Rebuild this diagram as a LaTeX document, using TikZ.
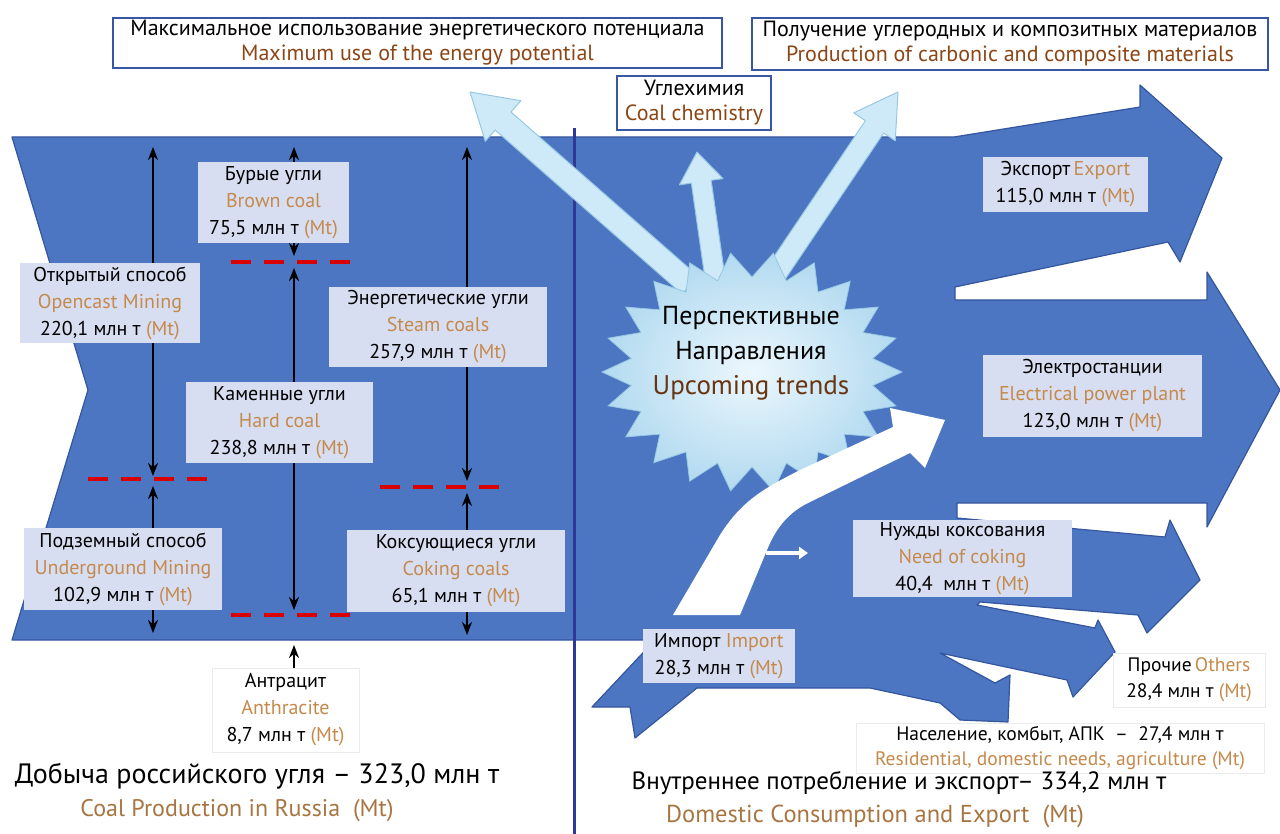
\documentclass[tikz,border=0pt]{standalone}
\usepackage{fontspec}
\setmainfont{PT Sans}
\usepackage{tikz}
\usetikzlibrary{arrows.meta}
\usetikzlibrary{calc}

\definecolor{bandblue}{RGB}{76,118,194}
\definecolor{bandedge}{RGB}{52,86,158}
\definecolor{midline}{RGB}{48,56,150}
\definecolor{labelfill}{RGB}{216,222,241}
\definecolor{engtan}{RGB}{196,138,76}
\definecolor{engbrown}{RGB}{140,70,22}
\definecolor{trendfill}{RGB}{206,233,247}
\definecolor{trendedge}{RGB}{150,200,228}
\definecolor{burstin}{RGB}{236,247,253}
\definecolor{burstout}{RGB}{178,218,240}
\definecolor{boxline}{RGB}{56,86,166}

\tikzset{
  coallabel/.style={fill=labelfill, inner sep=0pt, align=center, font=\fontsize{20}{27}\selectfont},
  whitelabel/.style={fill=white, draw=black!8, inner sep=0pt, align=center, font=\fontsize{20}{27}\selectfont},
  topbox/.style={fill=white, draw=boxline, line width=1.5pt, inner sep=0pt, align=center, font=\fontsize{22}{25}\selectfont},
  dimarrow/.style={line width=2pt, {Stealth[length=13pt,width=10pt]}-{Stealth[length=13pt,width=10pt]}},
  uparrow/.style={line width=2pt, -{Stealth[length=13pt,width=10pt]}},
  cutline/.style={red!85!black, line width=3.5pt, dash pattern=on 20pt off 13pt},
  trend/.style={fill=trendfill, draw=trendedge, line width=1pt, line join=round},
}

\newcommand{\engtxt}[1]{\textcolor{engtan}{#1}}
\newcommand{\mtunit}{\textcolor{engtan}{(Mt)}}
% #1 start, #2 tip, #3 half shaft, #4 half head, #5 head length
\newcommand{\trendarrow}[5]{%
  \filldraw[trend] ($(#1)!#3!90:(#2)$) -- ($(#2)!#5!(#1)!#3!-90:(#1)$)
    -- ($(#2)!#5!(#1)!#4!-90:(#1)$) -- (#2) -- ($(#2)!#5!(#1)!#4!90:(#1)$)
    -- ($(#2)!#5!(#1)!#3!90:(#1)$) -- ($(#1)!#3!-90:(#2)$) -- cycle;}

\begin{document}
\begin{tikzpicture}[x=1pt,y=-1pt]
\useasboundingbox (0,0) rectangle (1280,834);

% coal flow band and outgoing arrows
\filldraw[fill=bandblue, draw=bandedge, line width=1.2pt, line join=round]
  (12,137) -- (954,137) -- (1140,107) -- (1140,85) -- (1222,158) -- (1180,262)
  -- (1168,242) -- (955,287) -- (955,300) -- (1207,300) -- (1207,272) -- (1280,390)
  -- (1207,527) -- (1207,503) -- (957,503) -- (957,518) -- (1165,537) -- (1170,520)
  -- (1200,580) -- (1147,633) -- (1138,615) -- (980,602) -- (977,605) -- (1095,628)
  -- (1098,620) -- (1115,652) -- (1073,697) -- (1067,680) -- (940,653) -- (995,683)
  -- (1010,675) -- (1008,722) -- (960,720) -- (940,703) -- (870,688) -- (697,688)
  -- (635,738) -- (630,707) -- (592,707) -- (655,640) -- (12,640) -- (88,390) -- cycle;

\draw[midline, line width=3pt] (574,128) -- (574,834);

% end points
\coordinate (a1) at (153,147); \coordinate (a2) at (153,476);
\coordinate (a3) at (153,486); \coordinate (a4) at (153,633);
\coordinate (b1) at (294,147); \coordinate (b2) at (294,256);
\coordinate (b3) at (294,268); \coordinate (b4) at (294,610);
\coordinate (b5) at (294,645);
\coordinate (c1) at (467,147); \coordinate (c2) at (467,481);
\coordinate (c3) at (467,493); \coordinate (c4) at (467,635);

\coordinate (d1l) at (88,479);  \coordinate (d1r) at (218,479);
\coordinate (d2l) at (231,262); \coordinate (d2r) at (362,262);
\coordinate (d3l) at (380,487); \coordinate (d3r) at (512,487);
\coordinate (d4l) at (231,615); \coordinate (d4r) at (362,615);

\foreach \l/\r in {d1l/d1r,d2l/d2r,d3l/d3r,d4l/d4r}
  \draw[cutline] (\l) -- (\r);

\foreach \s/\e in {a1/a2,a3/a4,b1/b2,b3/b4,c1/c2,c3/c4}
  \draw[dimarrow] (\s) -- (\e);

% upcoming trends
\coordinate (t1s) at (690,285); \coordinate (t1e) at (470,92);
\coordinate (t2s) at (716,285); \coordinate (t2e) at (697,152);
\coordinate (t3s) at (768,285); \coordinate (t3e) at (898,92);
\trendarrow{t1s}{t1e}{12pt}{27pt}{44pt}
\trendarrow{t2s}{t2e}{10pt}{22pt}{30pt}
\trendarrow{t3s}{t3e}{11pt}{25pt}{42pt}

\shadedraw[inner color=burstin, outer color=burstout, draw=trendedge, line width=0.8pt]
  (902,372) \foreach \i in {1,...,43} {
    -- ({752+(mod(\i,2)==0 ? 150 : 122)*cos(\i*360/44)}, {372+(mod(\i,2)==0 ? 120 : 95)*sin(\i*360/44)})
  } -- cycle;
\node (burst) at (751,353) [align=center, font=\fontsize{26}{35}\selectfont]
  {Перспективные\\Направления\\\fontsize{27}{35}\selectfont\textcolor{engbrown!75!black}{Upcoming trends}};

% import towards power plants
\fill[white] (673,615) -- (720,535) .. controls (742,500) and (765,488) .. (800,470)
  -- (893,427) -- (890,408) -- (945,420) -- (925,468) -- (910,453)
  -- (808,503) .. controls (788,513) and (776,528) .. (767,550) -- (740,615) -- cycle;
\coordinate (w1) at (766,553); \coordinate (w2) at (808,553);
\draw[white, line width=4pt, -{Triangle[length=9pt,width=12pt]}] (w1) -- (w2);

% production labels
\node[coallabel, minimum width=151pt, minimum height=81pt] (brown) at (273.5,202.5)
  {Бурые угли\\\engtxt{Brown coal}\\75,5 млн т \mtunit};
\node[coallabel, minimum width=180pt, minimum height=80pt] (open) at (110,303)
  {Открытый способ\\\engtxt{Opencast Mining}\\220,1 млн т \mtunit};
\node[coallabel, minimum width=218pt, minimum height=80pt] (steam) at (438,327)
  {Энергетические угли\\\engtxt{Steam coals}\\257,9 млн т \mtunit};
\node[coallabel, minimum width=187pt, minimum height=81pt] (hard) at (279.5,422.5)
  {Каменные угли\\\engtxt{Hard coal}\\238,8 млн т \mtunit};
\node[coallabel, minimum width=198pt, minimum height=82pt] (under) at (123,569)
  {Подземный способ\\\engtxt{Underground Mining}\\102,9 млн т \mtunit};
\node[coallabel, minimum width=218pt, minimum height=82pt] (coking) at (456,571)
  {Коксующиеся угли\\\engtxt{Coking coals}\\65,1 млн т \mtunit};
\node[whitelabel, minimum width=147pt, minimum height=84pt] (anthra) at (285.5,710)
  {Антрацит\\\engtxt{Anthracite}\\8,7 млн т \mtunit};
\draw[uparrow] (anthra.north -| b5) -- (b5);

% consumption labels
\node[coallabel, minimum width=165pt, minimum height=55pt] (export) at (1065.5,184.5)
  {Экспорт\,\engtxt{Export}\\115,0 млн т \mtunit};
\node[coallabel, minimum width=219pt, minimum height=82pt] (power) at (1092.5,396)
  {Электростанции\\\engtxt{Electrical power plant}\\123,0 млн т \mtunit};
\node[coallabel, minimum width=219pt, minimum height=77pt] (cokeneed) at (962.5,558.5)
  {Нужды коксования\\\engtxt{Need of coking}\\40,4~ млн т \mtunit};
\node[coallabel, minimum width=152pt, minimum height=54pt] (import) at (719,656)
  {Импорт \engtxt{Import}\\28,3 млн т \mtunit};
\node[whitelabel, minimum width=152pt, minimum height=54pt, font=\fontsize{19.5}{26}\selectfont] (others) at (1189,680)
  {Прочие\,\engtxt{Others}\\28,4 млн т \mtunit};
\node[whitelabel, minimum width=408pt, minimum height=50pt, font=\fontsize{19.5}{25}\selectfont] (resid) at (1060,748)
  {Население, комбыт, АПК~ –~ 27,4 млн т\\\engtxt{Residential, domestic needs, agriculture (Mt)}};

% prospects
\node[topbox, minimum width=609pt, minimum height=50pt] (maxuse) at (417.5,43)
  {Максимальное использование энергетического потенциала\\\textcolor{engbrown}{Maximum use of the energy potential}};
\node[topbox, minimum width=516pt, minimum height=52pt] (carbon) at (1010,44)
  {Получение углеродных и композитных материалов\\\textcolor{engbrown}{Production of carbonic and composite materials}};
\node[topbox, minimum width=154pt, minimum height=54pt] (chem) at (694,103)
  {Углехимия\\\textcolor{engbrown}{Coal chemistry}};

% totals
\node (prodtitle) at (257,776) [font=\fontsize{28}{32}\selectfont] {Добыча российского угля – 323,0 млн т};
\node (prodsub) at (237,811) [font=\fontsize{24}{28}\selectfont, text=engtan!85!black] {Coal Production in Russia~ (Mt)};
\node (constitle) at (899,783) [font=\fontsize{25}{30}\selectfont] {Внутреннее потребление и экспорт– 334,2 млн т};
\node (conssub) at (875,816) [font=\fontsize{24.5}{28}\selectfont, text=engtan!85!black] {Domestic Consumption and Export~ (Mt)};

\end{tikzpicture}
\end{document}
